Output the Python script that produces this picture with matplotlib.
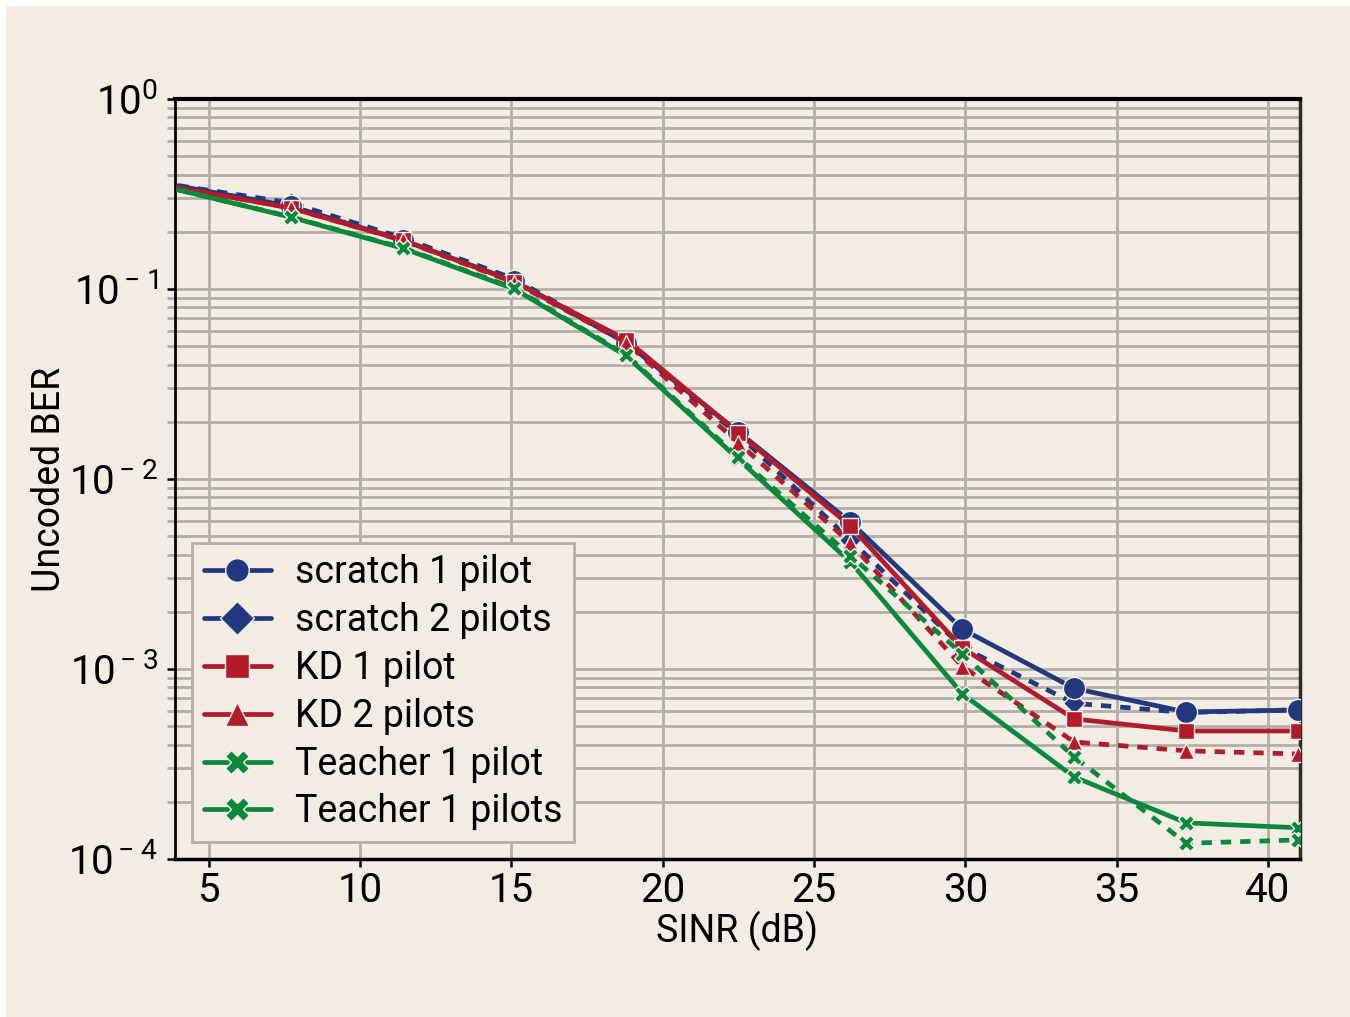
import numpy as np
import matplotlib
matplotlib.use('Agg')
import matplotlib.pyplot as plt
from matplotlib.patches import Rectangle
from matplotlib.ticker import FuncFormatter

plt.rcParams['font.family'] = ['Roboto', 'DejaVu Sans']
plt.rcParams['mathtext.fontset'] = 'custom'
plt.rcParams['mathtext.rm'] = 'Roboto'
plt.rcParams['mathtext.it'] = 'Roboto'
plt.rcParams['mathtext.bf'] = 'Roboto'

# SINR points (dB)
sinr = [4.0, 7.7, 11.4, 15.1, 18.8, 22.5, 26.2, 29.9, 33.6, 37.3, 41.0]

scratch_1 = [0.348, 0.273, 0.181, 0.110, 0.052, 0.0177, 0.00594, 0.00162, 7.9e-4, 5.94e-4, 6.08e-4]
scratch_2 = [0.350, 0.284, 0.186, 0.113, 0.052, 0.0171, 0.00478, 0.00130, 6.6e-4, 5.9e-4, 6.1e-4]
kd_1 = [0.340, 0.267, 0.181, 0.109, 0.054, 0.0175, 0.00566, 0.00129, 5.46e-4, 4.72e-4, 4.72e-4]
kd_2 = [0.340, 0.267, 0.180, 0.108, 0.052, 0.0155, 0.00460, 0.00103, 4.13e-4, 3.71e-4, 3.57e-4]
teacher_1 = [0.332, 0.239, 0.164, 0.100, 0.0444, 0.0127, 0.00366, 7.4e-4, 2.7e-4, 1.55e-4, 1.46e-4]
teacher_2 = [0.332, 0.240, 0.165, 0.101, 0.0450, 0.0130, 0.00395, 0.00120, 3.44e-4, 1.21e-4, 1.26e-4]

labels = ['scratch 1 pilot', 'scratch 2 pilots', 'KD 1 pilot', 'KD 2 pilots',
          'Teacher 1 pilot', 'Teacher 1 pilots']

blue = '#22397f'
red = '#b11b2b'
green = '#0a883b'
bg = '#f2ece2'
grid_c = '#b3aea6'

# values, colour, linestyle, marker, markersize, zorder
series = [
    (scratch_1, blue, '-', 'o', 16, 3),
    (scratch_2, blue, '--', 'D', 11, 2.9),
    (kd_1, red, '-', 's', 12, 3.1),
    (kd_2, red, '--', '^', 12, 3.2),
    (teacher_1, green, '-', 'X', 12, 3.3),
    (teacher_2, green, '--', 'X', 12, 3.4),
]

fig = plt.figure(figsize=(13.5, 10.17), dpi=100)
fig.patch.set_facecolor('white')
fig.patches.append(Rectangle((6 / 1350, 0), 1, 1 - 6 / 1017, transform=fig.transFigure,
                             facecolor=bg, edgecolor='none', zorder=-10))
ax = fig.add_axes([175 / 1350, 1 - 859 / 1017, 1125 / 1350, 760 / 1017])
ax.set_facecolor(bg)

for (vals, col, ls, mk, ms, z), lab in zip(series, labels):
    line, = ax.plot(sinr, vals, color=col, linestyle=ls, lw=3.4, marker=mk, markersize=ms,
                    markeredgecolor='#f4efe8', markeredgewidth=1.0, markevery=slice(1, None),
                    label=lab, zorder=z)
    if ls == '--':
        line.set_dashes((2.2, 1.9))

ax.set_yscale('log')
ax.set_ylim(1e-4, 1)
ax.set_xlim(3.88, 41.06)
ax.set_xticks([5, 10, 15, 20, 25, 30, 35, 40])


def log_fmt(v, pos):
    k = int(round(np.log10(v)))
    if k == 0:
        return r'$10^{0}$'
    return r'$10^{\,{-}\;%d}$' % (-k)


ax.yaxis.set_major_formatter(FuncFormatter(log_fmt))

ax.grid(True, which='major', color=grid_c, lw=2)
ax.grid(True, which='minor', axis='y', color=grid_c, lw=2)
ax.set_axisbelow(True)

ax.tick_params(axis='both', which='major', direction='out', length=6, width=1.8,
               color='black', labelsize=29)
ax.tick_params(axis='y', which='major', pad=6)
ax.tick_params(axis='x', which='major', pad=3)
ax.tick_params(axis='y', which='minor', direction='out', length=6, width=2, color=grid_c)
ax.tick_params(axis='x', which='minor', bottom=False)

for side in ['left', 'bottom', 'top']:
    ax.spines[side].set_color('black')
ax.spines['left'].set_linewidth(2)
ax.spines['bottom'].set_linewidth(2.5)
ax.spines['top'].set_linewidth(3)
ax.spines['right'].set_color('#2b2b2b')
ax.spines['right'].set_linewidth(2.5)

ax.set_xlabel('SINR (dB)', fontsize=27, labelpad=0)
ax.set_ylabel('Uncoded BER', fontsize=27)
ax.yaxis.set_label_coords(-0.095, 0.499)

leg = ax.legend(loc='lower left', fontsize=27, frameon=True, fancybox=False,
                edgecolor=grid_c, facecolor=bg, framealpha=1, handlelength=1.8,
                handletextpad=0.65, labelspacing=0.29, borderpad=0.3,
                borderaxespad=0.46)
leg.get_frame().set_linewidth(2)
for h in leg.legend_handles:
    h.set_linestyle('-')
    h.set_solid_capstyle('round')
    h.set_markersize(17)

fig.savefig('out.png', dpi=100, facecolor=fig.get_facecolor())
